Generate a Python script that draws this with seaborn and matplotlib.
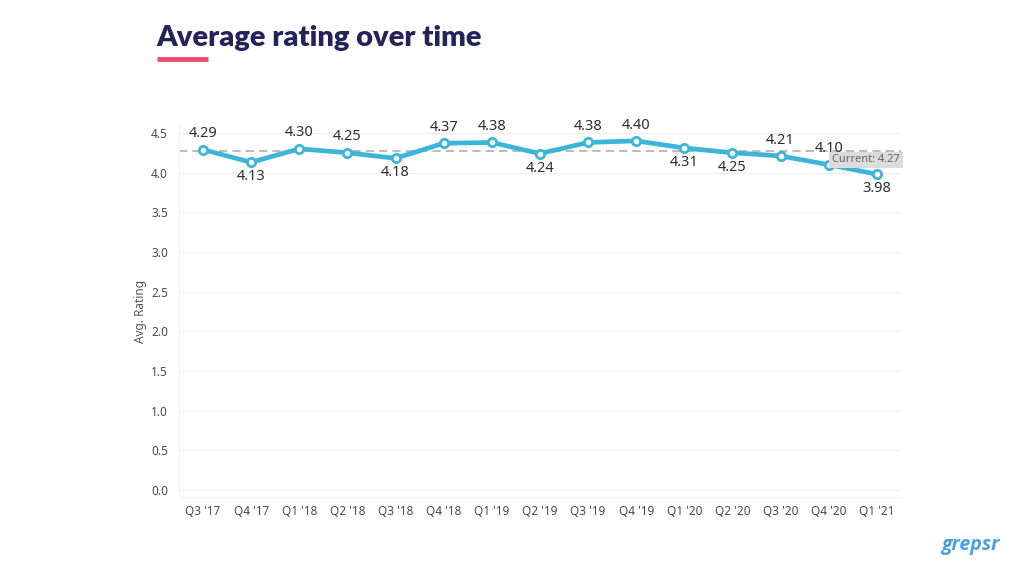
import matplotlib
matplotlib.use("Agg")
import matplotlib.pyplot as plt
import seaborn as sns
import pandas as pd

quarters = ["Q3 '17", "Q4 '17", "Q1 '18", "Q2 '18", "Q3 '18", "Q4 '18", "Q1 '19",
            "Q2 '19", "Q3 '19", "Q4 '19", "Q1 '20", "Q2 '20", "Q3 '20", "Q4 '20", "Q1 '21"]
ratings = [4.29, 4.13, 4.30, 4.25, 4.18, 4.37, 4.38, 4.24, 4.38, 4.40, 4.31, 4.25, 4.21, 4.10, 3.98]
label_above = [True, False, True, True, False, True, True, False, True, True, False, False, True, True, False]
current_value = 4.27
y_ticks = [0.0, 0.5, 1.0, 1.5, 2.0, 2.5, 3.0, 3.5, 4.0, 4.5]

df = pd.DataFrame({"quarter": quarters, "rating": ratings})

sns.set_theme(style="white")
plt.rcParams["font.family"] = ["Noto Sans", "DejaVu Sans"]

fig = plt.figure(figsize=(10.24, 5.76), dpi=100)
ax = fig.add_axes([0.1748, 0.137, 0.705, 0.646])

line_color = "#3db5d8"
sns.lineplot(data=df, x="quarter", y="rating", ax=ax, color=line_color, linewidth=3.4,
             marker="o", markersize=6, markerfacecolor="white", markeredgecolor=line_color,
             markeredgewidth=2.0, sort=False, zorder=4)

ax.set_xlim(-0.5, len(quarters) - 0.5)
ax.set_ylim(-0.088, 4.6)
ax.set_yticks(y_ticks)
ax.set_yticklabels([f"{v:.1f}" for v in y_ticks])
for v in y_ticks:
    ax.axhline(v, color="#f0f0f0", linewidth=0.8, zorder=0)

# dashed reference line
ax.axhline(current_value, color="#b0b0b0", linewidth=1.2, linestyle=(0, (5, 3)), zorder=2)
ax.text(len(quarters) - 0.52, current_value - 0.04, "Current: 4.27", ha="right", va="top",
        fontsize=8, color="#666666", zorder=5,
        bbox=dict(boxstyle="square,pad=0.25", facecolor="#dcdcdc", edgecolor="none"))

# value labels
for i, (v, up) in enumerate(zip(ratings, label_above)):
    if up:
        ax.annotate(f"{v:.2f}", (i, v), xytext=(0, 6), textcoords="offset points",
                    ha="center", va="bottom", fontsize=10.5, color="#2e2e2e", zorder=6)
    else:
        ax.annotate(f"{v:.2f}", (i, v), xytext=(0, -5), textcoords="offset points",
                    ha="center", va="top", fontsize=10.5, color="#2e2e2e", zorder=6)

ax.set_xlabel("")
ax.set_ylabel("Avg. Rating", fontsize=8.5, color="#555555", labelpad=3)
ax.tick_params(axis="both", labelsize=8.5, colors="#4a4a4a", length=0)
ax.tick_params(axis="x", pad=6)
ax.tick_params(axis="y", pad=8)

for s in ["top", "right"]:
    ax.spines[s].set_visible(False)
ax.spines["left"].set_color("#f0f0f0")
ax.spines["bottom"].set_color("#f0f0f0")
ax.spines["left"].set_linewidth(0.8)
ax.spines["bottom"].set_linewidth(0.8)

# title and underline
fig.text(156 / 1024, 1 - 38 / 576, "Average rating over time", fontsize=21, fontweight="heavy",
         color="#25235a", ha="left", va="center", family=["Lato", "DejaVu Sans"])
fig.add_artist(plt.Line2D([157 / 1024, 208 / 1024], [1 - 59 / 576, 1 - 59 / 576],
                          color="#ea4a6c", linewidth=3.5, solid_capstyle="butt"))

# logo text
fig.text(970 / 1024, 1 - 545 / 576, "grepsr", fontsize=14, fontweight="bold", style="italic",
         color="#4a9fe2", ha="center", va="center", family=["Open Sans", "DejaVu Sans"])

fig.savefig("out.png", dpi=100, facecolor="white")
